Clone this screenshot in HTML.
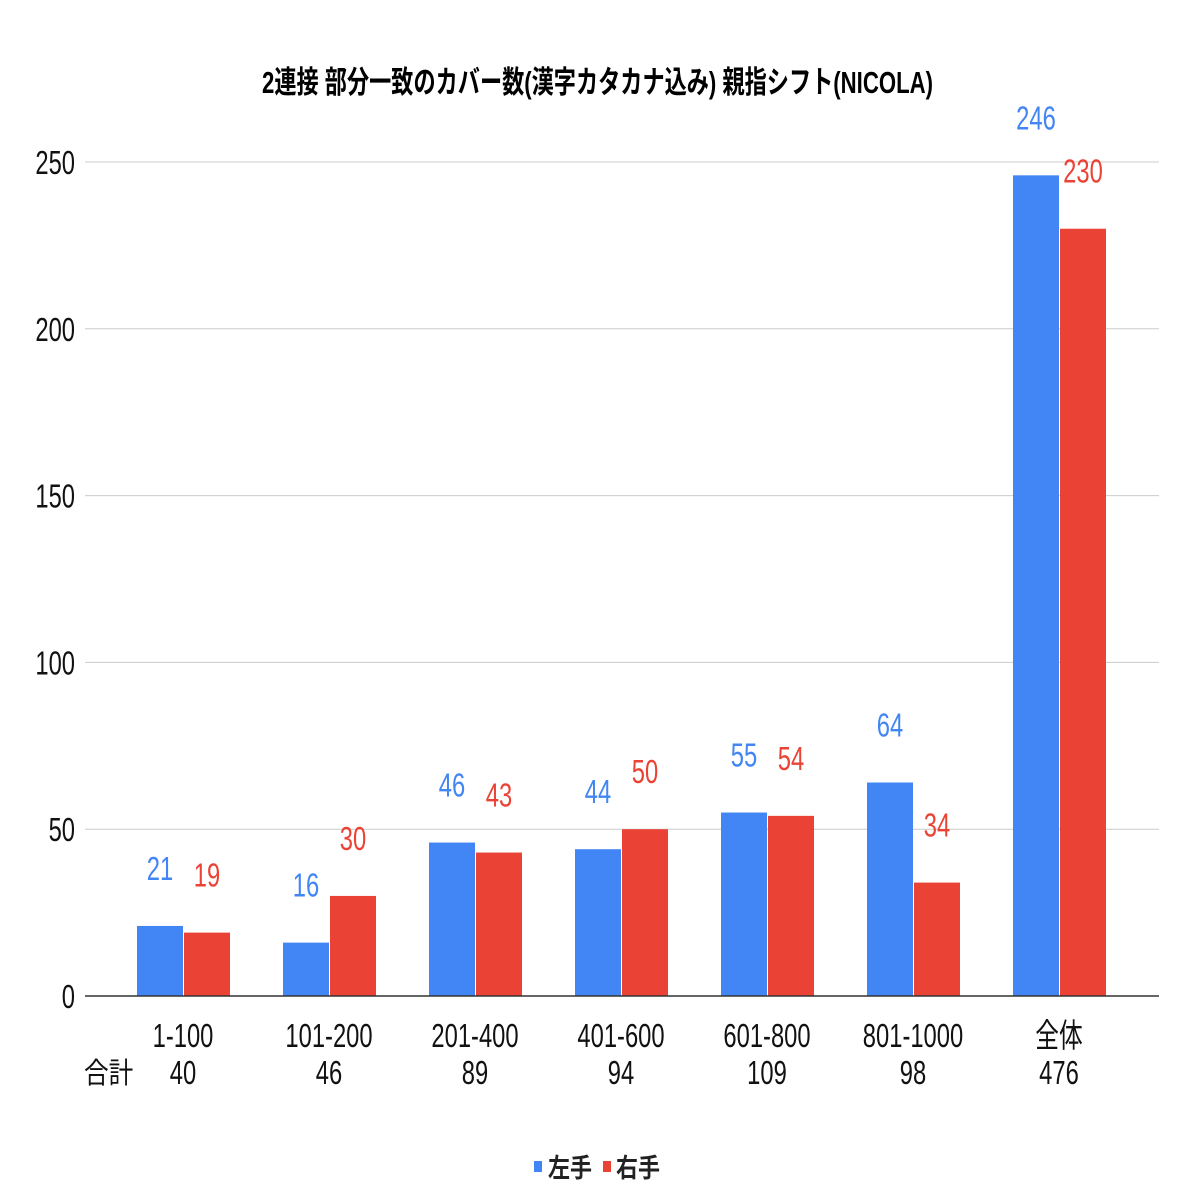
<!DOCTYPE html>
<html><head><meta charset="utf-8"><style>
html,body{margin:0;padding:0;background:#fff}
svg{display:block}
text{font-family:"Liberation Sans","Noto Sans CJK JP",sans-serif}
</style></head><body>
<svg id="s" width="1196" height="1196" viewBox="0 0 1196 1196" xmlns="http://www.w3.org/2000/svg">
<rect width="1196" height="1196" fill="#fff"/>
<text x="262" y="93" font-size="31" font-weight="bold" fill="#000" textLength="671" lengthAdjust="spacingAndGlyphs">2連接 部分一致のカバー数(漢字カタカナ込み) 親指シフト(NICOLA)</text>
<rect x="534" y="1161" width="8" height="11" fill="#4285f4"/>
<text x="548" y="1177" font-size="26" font-weight="bold" fill="#222" textLength="44" lengthAdjust="spacingAndGlyphs">左手</text>
<rect x="603" y="1161" width="8" height="11" fill="#ea4335"/>
<text x="616" y="1177" font-size="26" font-weight="bold" fill="#222" textLength="44" lengthAdjust="spacingAndGlyphs">右手</text>
<text x="84" y="1083" font-size="29" fill="#111" transform="translate(84,1083) scale(0.85,1) translate(-84,-1083)">合計</text>
</svg>
<script>
const s=document.getElementById('s');const NS='http://www.w3.org/2000/svg';
function el(t,a,txt){const e=document.createElementNS(NS,t);for(const k in a)e.setAttribute(k,a[k]);if(txt!==undefined)e.textContent=txt;s.appendChild(e);return e;}
const Y=v=>996-v*3.336;
function nt(x,y,str,fill,size,anchor){el('text',{x:0,y:0,'font-size':size,fill:fill,'text-anchor':anchor||'middle',transform:`translate(${x},${y}) scale(0.72,1)`},str);}
for(let v=0;v<=250;v+=50){const y=Y(v);if(v>0)el('line',{x1:85,x2:1159,y1:y,y2:y,stroke:'#ccc','stroke-width':1});nt(75,y+12,String(v),'#111',33,'end');}
const cats=['1-100','101-200','201-400','401-600','601-800','801-1000','全体'];
const tot=['40','46','89','94','109','98','476'];
const L=[21,16,46,44,55,64,246],R=[19,30,43,50,54,34,230];
for(let i=0;i<7;i++){const c=183+i*146;
el('rect',{x:c-46,y:Y(L[i]),width:46,height:L[i]*3.336,fill:'#4285f4'});
el('rect',{x:c+1,y:Y(R[i]),width:46,height:R[i]*3.336,fill:'#ea4335'});
nt(c-23,Y(L[i])-46,String(L[i]),'#4285f4',33);
nt(c+24,Y(R[i])-46,String(R[i]),'#ea4335',33);
nt(c,1047,cats[i],'#111',33);nt(c,1084,tot[i],'#111',33);}
el('line',{x1:85,x2:1159,y1:996,y2:996,stroke:'#333','stroke-width':1.5});
</script>
</body></html>
